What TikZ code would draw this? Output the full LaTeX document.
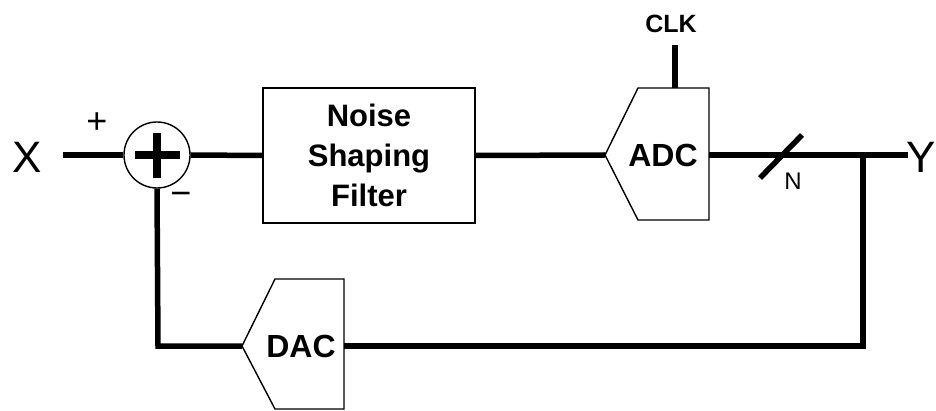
\documentclass[tikz,border=0pt]{standalone}
\usepackage{fontspec}
\setmainfont{Liberation Sans}
\begin{document}
\begin{tikzpicture}[x=1pt,y=-1pt,
  wire/.style={line width=5.5pt},
  thinbox/.style={draw, line width=1.4pt},
  lbl/.style={inner sep=0pt, font=\bfseries\fontsize{32}{32}\selectfont},
  sig/.style={inner sep=0pt, font=\fontsize{44}{44}\selectfont}]
\useasboundingbox (0,0) rectangle (936,411);
% coordinates
\coordinate (xin) at (63,155);
\coordinate (adcin) at (605,155);
\coordinate (adcout) at (709,155);
\coordinate (adctop) at (675,88);
\coordinate (clk) at (675,45);
\coordinate (yout) at (908,155);
\coordinate (br) at (863,155);
\coordinate (brb) at (863,346);
\coordinate (dacout) at (344,346);
\coordinate (dacin) at (242,346);
\coordinate (fbc) at (158,346);
\coordinate (s1) at (760,178);
\coordinate (s2) at (802,135);
% labels
\node[sig] (xlbl) at (27,157) {X};
\node[sig] (ylbl) at (921,157) {Y};
\node[inner sep=0pt, font=\fontsize{36}{36}\selectfont] (plus) at (97,123) {+};
\node[inner sep=0pt, font=\fontsize{36}{36}\selectfont] (minus) at (181,199) {\char"2212};
% summer
\node[circle, thinbox, minimum size=66pt, inner sep=0pt] (sum) at (157,155) {};
\draw[line width=8pt] (135,155) -- (180,155) (157,133) -- (157,178);
% filter
\node[thinbox, minimum width=212pt, minimum height=135pt, align=center,
      font=\bfseries\fontsize{31}{40}\selectfont] (filt) at (369,155.5)
      {Noise\\Shaping\\Filter};
% ADC
\draw[thinbox, fill=white] (adcin) -- (638,88) -- (709,88) -- (709,220) -- (638,220) -- cycle;
\node[lbl] (adc) at (663,155) {ADC};
\node[inner sep=0pt, font=\bfseries\fontsize{25}{25}\selectfont] (clklbl) at (671,24) {CLK};
% DAC
\draw[thinbox, fill=white] (dacin) -- (275,279) -- (344,279) -- (344,409) -- (275,409) -- cycle;
\node[lbl] (dac) at (301,346) {DAC};
% wires
\draw[wire] (xin) -- (sum.west);
\draw[wire] (sum.east) -- (filt.west);
\draw[wire] (filt.east) -- (adcin);
\draw[wire] (adctop) -- (clk);
\draw[wire] (adcout) -- (yout);
\draw[wire] (br) -- (brb) -- (dacout);
\draw[wire] (dacin) -- (fbc) -- (sum.south);
\draw[wire] (s1) -- (s2);
\node[inner sep=0pt, font=\fontsize{24}{24}\selectfont] (nlbl) at (793,181) {N};
\end{tikzpicture}
\end{document}
